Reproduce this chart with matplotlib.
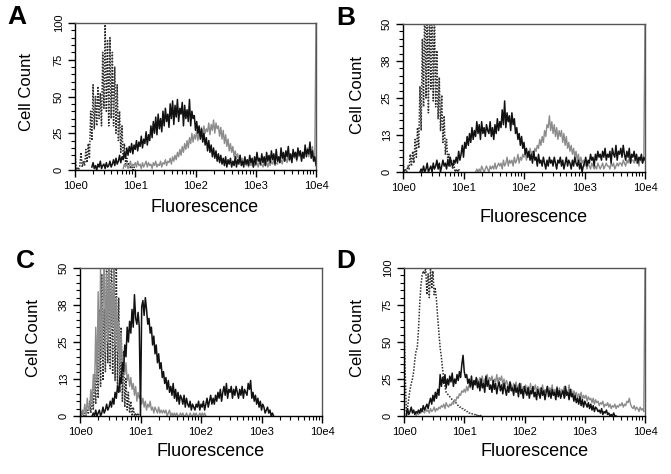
import numpy as np
import matplotlib
matplotlib.use("Agg")
import matplotlib.pyplot as plt
from matplotlib.ticker import FixedLocator, MultipleLocator, LogLocator, NullFormatter

plt.rcParams["font.family"] = ["Liberation Sans", "DejaVu Sans"]

# ── Colours ───────────────────────────────────────────────────────────────────
BLACK = "#111111"
GRAY  = "#8c8c8c"
DOT   = "#2e2e2e"
FRAME = "#555555"

# ── Histogram data: first bin (log10 fluorescence), bin width (decades), counts
# Panel A
A_dot_start, A_dot_step = 0.00, 0.02
A_dot = [12, 0, 2, 0, 3, 12, 2, 6, 3, 14,
         5, 18, 8, 40, 20, 58, 28, 50, 30, 57,
         35, 52, 30, 80, 42, 100, 40, 88, 30, 90,
         35, 80, 30, 70, 25, 58, 20, 40, 12, 30,
         8, 18, 4, 8, 2, 5, 1, 3, 0, 2,
         0]
A_blk_start, A_blk_step = 0.28, 0.02
A_blk = [2, 5, 1, 3, 0, 4, 2, 6, 1, 3,
         4, 1, 5, 2, 3, 6, 2, 4, 7, 3,
         8, 4, 6, 10, 5, 9, 7, 12, 8, 15,
         10, 16, 12, 18, 11, 17, 14, 20, 13, 19,
         16, 23, 15, 21, 18, 26, 17, 24, 20, 30,
         22, 33, 25, 36, 24, 38, 28, 35, 26, 40,
         30, 42, 33, 38, 29, 45, 35, 47, 31, 44,
         36, 48, 33, 42, 38, 46, 30, 44, 35, 41,
         33, 48, 30, 40, 35, 37, 27, 33, 25, 30,
         21, 28, 19, 25, 17, 22, 13, 20, 12, 17,
         9, 15, 8, 13, 6, 11, 5, 10, 4, 8,
         3, 9, 2, 7, 4, 8, 2, 6, 3, 9,
         2, 7, 4, 10, 3, 6, 2, 9, 4, 7,
         3, 10, 5, 8, 2, 9, 4, 12, 6, 8,
         4, 11, 5, 9, 3, 12, 6, 10, 5, 13,
         7, 11, 4, 14, 6, 9, 5, 15, 8, 12,
         6, 13, 9, 16, 7, 11, 5, 14, 9, 12,
         7, 15, 10, 13, 6, 12, 8, 17, 9, 14,
         11, 19, 8, 13, 6, 9, 3]
A_gry_start, A_gry_step = 0.80, 0.02
A_gry = [1, 4, 2, 5, 1, 3, 6, 2, 4, 3,
         5, 2, 6, 3, 4, 1, 5, 2, 4, 6,
         2, 5, 3, 4, 1, 5, 3, 6, 2, 4,
         3, 6, 2, 5, 4, 7, 3, 6, 5, 8,
         4, 9, 6, 10, 7, 12, 9, 14, 10, 16,
         12, 18, 14, 20, 15, 22, 18, 25, 19, 24,
         21, 27, 20, 26, 23, 29, 22, 30, 25, 28,
         26, 32, 24, 31, 27, 34, 25, 32, 28, 30,
         23, 29, 21, 27, 18, 24, 16, 21, 13, 18,
         12, 16, 9, 13, 8, 11, 6, 10, 5, 8,
         4, 7, 3, 6, 2, 5, 3, 6, 2, 4,
         3, 5, 2, 6, 3, 4, 2, 5, 3, 6,
         2, 5, 3, 6, 4, 7, 3, 5, 4, 8,
         5, 7, 4, 9, 6, 8, 5, 10, 6, 9,
         7, 11, 8, 12, 6, 10, 9, 13, 8, 12,
         10, 14, 11, 15, 9, 13, 12, 16, 10, 7,
         100]

# Panel B
B_dot_start, B_dot_step = 0.00, 0.02
B_dot = [3, 0, 1, 0, 2, 1, 6, 2, 7, 3,
         11, 5, 15, 8, 29, 14, 45, 22, 60, 25,
         58, 20, 55, 28, 60, 24, 56, 22, 41, 18,
         32, 14, 26, 10, 19, 6, 11, 4, 6, 2,
         4, 1, 3, 0, 1, 0, 1, 0]
B_blk_start, B_blk_step = 0.28, 0.02
B_blk = [0, 1, 0, 2, 0, 1, 3, 0, 1, 2,
         0, 3, 1, 2, 4, 1, 3, 0, 2, 4,
         2, 3, 1, 4, 2, 5, 3, 2, 4, 3,
         5, 3, 7, 4, 6, 9, 5, 10, 8, 12,
         9, 13, 10, 15, 11, 14, 12, 17, 13, 16,
         11, 17, 13, 15, 12, 16, 14, 13, 17, 12,
         15, 11, 16, 13, 18, 14, 17, 15, 21, 16,
         24, 15, 20, 17, 19, 14, 20, 16, 18, 13,
         15, 11, 13, 9, 12, 8, 10, 6, 8, 5,
         7, 4, 6, 3, 7, 4, 5, 2, 6, 3,
         4, 2, 5, 3, 1, 4, 2, 5, 3, 4,
         2, 5, 3, 1, 4, 3, 5, 2, 4, 1,
         3, 5, 2, 4, 3, 1, 4, 2, 5, 3,
         2, 4, 1, 3, 0, 2, 3, 5, 2, 4,
         3, 6, 4, 5, 2, 6, 4, 7, 5, 6,
         4, 7, 5, 8, 4, 6, 5, 7, 3, 8,
         6, 5, 9, 4, 7, 6, 8, 5, 9, 6,
         4, 7, 5, 8, 3, 6, 5, 7, 4, 6,
         3, 5, 4, 6, 3, 5, 4]
B_gry_start, B_gry_step = 1.20, 0.02
B_gry = [0, 1, 0, 1, 0, 2, 1, 0, 1, 2,
         1, 0, 2, 1, 2, 1, 3, 1, 2, 3,
         2, 3, 1, 4, 2, 3, 5, 2, 4, 3,
         4, 2, 5, 3, 4, 6, 3, 5, 4, 6,
         5, 7, 4, 6, 5, 8, 6, 7, 5, 8,
         7, 9, 8, 11, 9, 12, 10, 14, 12, 16,
         15, 19, 14, 17, 13, 16, 12, 15, 11, 14,
         12, 14, 10, 13, 9, 12, 8, 10, 7, 9,
         6, 8, 5, 7, 4, 6, 3, 5, 3, 4,
         2, 3, 1, 3, 2, 1, 3, 2, 1, 2,
         1, 3, 2, 1, 2, 3, 1, 2, 3, 2,
         2, 1, 3, 2, 3, 1, 2, 3, 2, 3,
         3, 2, 4, 3, 2, 4, 3, 5, 3, 4,
         4, 3, 5, 3, 4, 2, 5, 4, 3, 4,
         50]

# Panel C
C_dot_start, C_dot_step = 0.00, 0.02
C_dot = [2, 0, 1, 0, 1, 0, 2, 1, 5, 1,
         8, 2, 14, 4, 22, 6, 36, 10, 48, 12,
         36, 15, 55, 18, 60, 16, 55, 14, 58, 12,
         52, 10, 40, 8, 30, 5, 22, 3, 13, 2,
         8, 1, 5, 0, 3, 0, 1, 0, 1, 0,
         0]
C_gry_start, C_gry_step = 0.00, 0.02
C_gry = [3, 0, 2, 1, 4, 0, 6, 2, 3, 9,
         4, 14, 8, 30, 12, 42, 15, 50, 20, 35,
         55, 22, 48, 25, 52, 28, 45, 30, 50, 24,
         40, 22, 32, 18, 28, 15, 20, 14, 18, 12,
         14, 10, 13, 9, 11, 7, 10, 5, 8, 6,
         7, 4, 6, 3, 5, 2, 4, 3, 5, 2,
         3, 1, 3, 2, 1, 3, 1, 2, 1, 2,
         1, 2, 0, 1, 2, 0, 1, 0, 1, 0,
         1, 0, 0, 1, 0, 1, 0, 0, 1, 0,
         0, 1, 0, 0, 1, 0, 1, 0, 0, 1,
         0, 1, 0, 1, 0]
C_blk_start, C_blk_step = 0.20, 0.02
C_blk = [0, 1, 0, 2, 0, 1, 2, 0, 1, 3,
         1, 2, 4, 2, 3, 5, 3, 6, 4, 8,
         6, 10, 8, 13, 11, 18, 15, 24, 20, 30,
         25, 32, 28, 36, 30, 41, 33, 31, 35, 30,
         0, 37, 39, 34, 40, 36, 31, 33, 28, 30,
         24, 27, 21, 24, 18, 21, 16, 18, 13, 15,
         11, 13, 9, 12, 8, 10, 7, 11, 6, 9,
         5, 8, 4, 7, 6, 4, 7, 3, 6, 4,
         3, 5, 2, 4, 3, 2, 4, 3, 5, 2,
         4, 3, 5, 2, 4, 6, 3, 5, 7, 4,
         6, 4, 7, 5, 8, 6, 9, 5, 8, 10,
         7, 11, 6, 9, 8, 10, 6, 9, 7, 10,
         8, 6, 9, 7, 10, 6, 9, 8, 7, 11,
         9, 12, 6, 8, 5, 7, 4, 6, 3, 5,
         2, 4, 3, 1, 2, 3, 1, 2, 0, 1,
         0]

# Panel D
D_dot_start, D_dot_step = 0.00, 0.02
D_dot = [66, 30, 1, 6, 12, 18, 22, 25, 30, 38,
         44, 46, 58, 75, 88, 95, 98, 96, 100, 82,
         96, 80, 100, 86, 98, 82, 86, 78, 66, 56,
         46, 40, 32, 25, 20, 16, 15, 14, 13, 12,
         11, 10, 10, 9, 8, 7, 6, 6, 5, 5,
         4, 4, 3, 3, 2, 2, 2, 1, 1, 1,
         0, 1, 0, 1, 0]
D_blk_start, D_blk_step = 0.04, 0.02
D_blk = [0, 5, 1, 3, 6, 2, 4, 1, 3, 2,
         4, 2, 5, 3, 7, 4, 6, 8, 5, 9,
         12, 8, 14, 10, 16, 12, 18, 14, 28, 20,
         26, 22, 28, 19, 25, 21, 27, 23, 29, 20,
         25, 22, 28, 24, 30, 26, 35, 41, 30, 26,
         28, 22, 25, 20, 27, 18, 24, 21, 26, 19,
         23, 17, 25, 19, 22, 16, 27, 20, 24, 18,
         21, 16, 24, 18, 22, 15, 20, 23, 17, 21,
         15, 22, 18, 14, 20, 16, 23, 17, 19, 14,
         21, 16, 19, 13, 22, 15, 18, 12, 20, 16,
         14, 19, 12, 17, 15, 20, 13, 16, 11, 18,
         15, 12, 19, 14, 17, 11, 16, 20, 13, 17,
         12, 18, 14, 16, 11, 19, 13, 17, 12, 15,
         17, 12, 20, 14, 16, 11, 18, 13, 15, 10,
         14, 9, 12, 8, 13, 7, 11, 6, 10, 8,
         6, 9, 5, 8, 4, 7, 3, 6, 5, 3,
         4, 2, 5, 1, 3, 2, 4, 1, 2, 0,
         1, 0, 2, 0, 0]
D_gry_start, D_gry_step = 0.20, 0.02
D_gry = [0, 2, 1, 3, 2, 4, 3, 2, 5, 3,
         4, 2, 5, 3, 4, 6, 3, 5, 4, 6,
         5, 7, 6, 8, 5, 9, 7, 6, 8, 7,
         9, 8, 11, 10, 13, 12, 15, 14, 17, 16,
         18, 16, 20, 17, 21, 19, 23, 20, 22, 24,
         21, 25, 22, 26, 23, 27, 21, 25, 24, 28,
         22, 26, 24, 27, 21, 25, 23, 28, 22, 26,
         24, 27, 21, 25, 20, 24, 22, 19, 23, 21,
         18, 22, 19, 23, 17, 21, 18, 22, 16, 20,
         18, 21, 16, 20, 17, 22, 15, 19, 18, 21,
         16, 20, 14, 19, 17, 21, 15, 18, 16, 20,
         15, 19, 17, 21, 14, 18, 16, 20, 15, 19,
         14, 18, 16, 20, 13, 17, 15, 21, 14, 18,
         13, 17, 14, 16, 12, 15, 13, 16, 11, 14,
         12, 14, 10, 13, 11, 12, 9, 12, 8, 11,
         9, 10, 7, 9, 8, 10, 6, 8, 7, 9,
         6, 8, 5, 7, 6, 8, 5, 7, 6, 8,
         7, 9, 6, 8, 7, 10, 9, 12, 8, 6,
         5, 7, 4, 6, 5, 3, 6, 4, 5, 3,
         100]

X_TICKS  = [1, 10, 100, 1000, 10000]
X_LABELS = ["10e0", "10e1", "10e2", "10e3", "10e4"]
Y_TICKS_100 = [0, 25, 50, 75, 100]
Y_LABELS_100 = ["0", "25", "50", "75", "100"]
Y_TICKS_50 = [0, 12.5, 25, 37.5, 50]
Y_LABELS_50 = ["0", "13", "25", "38", "50"]

W, H = 671, 474


def bins(start, step, vals):
    return 10 ** (start + step * np.arange(len(vals)))


def px_axes(left, top, right, bottom):
    return [left / W, 1 - bottom / H, (right - left) / W, (bottom - top) / H]


def style_ax(ax, ymax, yticks, ylabels):
    ax.set_xscale("log")
    ax.set_xlim(1, 1e4)
    ax.set_ylim(0, ymax)
    for side in ("top", "right"):
        ax.spines[side].set_color(FRAME)
        ax.spines[side].set_linewidth(1.0)
    for side in ("left", "bottom"):
        ax.spines[side].set_color("black")
        ax.spines[side].set_linewidth(1.0)
    ax.xaxis.set_major_locator(FixedLocator(X_TICKS))
    ax.set_xticklabels(X_LABELS)
    ax.xaxis.set_minor_locator(LogLocator(base=10, subs=np.arange(2, 10)))
    ax.xaxis.set_minor_formatter(NullFormatter())
    ax.set_yticks(yticks)
    ax.set_yticklabels(ylabels)
    ax.yaxis.set_minor_locator(MultipleLocator(ymax / 20))
    ax.tick_params(axis="both", which="major", direction="out", length=5, width=1,
                   labelsize=8, colors="black", pad=3)
    ax.tick_params(axis="both", which="minor", direction="out", length=3, width=0.8)
    ax.tick_params(axis="y", labelrotation=90)
    for lbl in ax.get_yticklabels():
        lbl.set_va("center")


def draw(ax, dot, gry, blk):
    ax.plot(bins(*dot), dot[2], color=DOT, lw=1.1, ls=(0, (1, 1)))
    ax.plot(bins(*gry), gry[2], color=GRAY, lw=1.0)
    ax.plot(bins(*blk), blk[2], color=BLACK, lw=1.1)


fig = plt.figure(figsize=(W / 100, H / 100), dpi=100, facecolor="white")

panels = [
    # letter, axes px box, ymax, ticks, letter pos, cell-count pos, fluor pos, data
    ("A", (75, 23, 316, 170), 100, Y_TICKS_100, Y_LABELS_100, (17, 17), (27, 92), (205, 208),
     (A_dot_start, A_dot_step, A_dot), (A_gry_start, A_gry_step, A_gry),
     (A_blk_start, A_blk_step, A_blk)),
    ("B", (403, 24, 645, 172), 50, Y_TICKS_50, Y_LABELS_50, (346, 18), (357, 95), (534, 217),
     (B_dot_start, B_dot_step, B_dot), (B_gry_start, B_gry_step, B_gry),
     (B_blk_start, B_blk_step, B_blk)),
    ("C", (80, 268, 322, 416), 50, Y_TICKS_50, Y_LABELS_50, (25, 261), (33, 338), (211, 452),
     (C_dot_start, C_dot_step, C_dot), (C_gry_start, C_gry_step, C_gry),
     (C_blk_start, C_blk_step, C_blk)),
    ("D", (404, 268, 645, 416), 100, Y_TICKS_100, Y_LABELS_100, (346, 261), (357, 338), (535, 452),
     (D_dot_start, D_dot_step, D_dot), (D_gry_start, D_gry_step, D_gry),
     (D_blk_start, D_blk_step, D_blk)),
]

for (letter, box, ymax, yt, yl, lpos, cpos, fpos, dot, gry, blk) in panels:
    ax = fig.add_axes(px_axes(*box))
    draw(ax, dot, gry, blk)
    style_ax(ax, ymax, yt, yl)
    fig.text(lpos[0] / W, 1 - lpos[1] / H, letter, fontsize=19, fontweight="bold",
             ha="center", va="center")
    fig.text(cpos[0] / W, 1 - cpos[1] / H, "Cell Count", fontsize=12, rotation=90,
             ha="center", va="center")
    fig.text(fpos[0] / W, 1 - fpos[1] / H, "Fluorescence", fontsize=13,
             ha="center", va="center")

fig.savefig("out.png", dpi=100, facecolor="white")
